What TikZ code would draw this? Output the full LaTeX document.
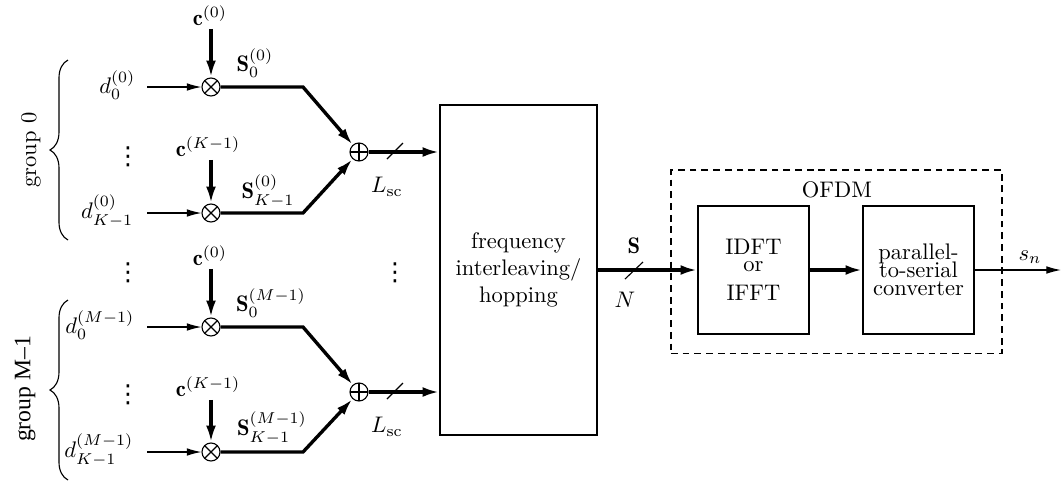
\documentclass[tikz,border=0pt]{standalone}
\usepackage{fontspec}
\newfontfamily\timesfont{Liberation Serif}
\newfontfamily\djvfont{DejaVu Sans}
\usetikzlibrary{arrows.meta,decorations.pathreplacing,calc}
\newcommand\myvdots{{\djvfont\fontsize{11}{11}\selectfont ⋮}}
\begin{document}
\begin{tikzpicture}[x=0.444pt,y=-0.444pt,
  thn/.style={line width=0.5pt},
  thinarr/.style={line width=0.5pt,-{Latex[length=6.5pt,width=3.4pt]}},
  thkarr/.style={line width=1.5pt,-{Latex[length=7.5pt,width=4.4pt]}},
  mult/.style={circle,draw,line width=0.5pt,minimum size=8pt,inner sep=0pt,
    path picture={\draw[line width=0.5pt] (path picture bounding box.north west) -- (path picture bounding box.south east)
      (path picture bounding box.north east) -- (path picture bounding box.south west);}},
  sumc/.style={circle,draw,line width=0.5pt,minimum size=8pt,inner sep=0pt,
    path picture={\draw[line width=0.5pt] (path picture bounding box.north) -- (path picture bounding box.south)
      (path picture bounding box.west) -- (path picture bounding box.east);}},
  block/.style={draw,line width=0.5pt,inner sep=0pt,align=center},
  lbl/.style={inner sep=1pt},
  dotsn/.style={inner sep=0pt},
  brc/.style={decorate,decoration={brace,amplitude=8pt},line width=0.5pt}
]
\useasboundingbox (0,0) rectangle (1062,481);

% ---------- group 0 ----------
\node[mult] (m00) at (211,87) {};
\node[mult] (m01) at (211,213) {};
\node[sumc] (s0) at (359,152) {};
\node[lbl] (c00) at (210,16) {$\mathbf{c}^{(0)}$};
\node[lbl] (c01) at (208,147) {$\mathbf{c}^{(K-1)}$};
\node[lbl,anchor=east] (d00) at (138,85) {$d_0^{(0)}$};
\node[lbl,anchor=east] (d01) at (136,211) {$d_{K-1}^{(0)}$};
\node[lbl] (S00) at (255,63) {$\mathbf{S}_0^{(0)}$};
\node[lbl] (S01) at (268,191) {$\mathbf{S}_{K-1}^{(0)}$};
\node[lbl] (L0) at (387,187) {$L_{\mathrm{sc}}$};
\node[dotsn] (v0) at (128,157) {\myvdots};
\coordinate (i00) at (147,87);
\coordinate (i01) at (147,213);
\coordinate (k00) at (303,87);
\coordinate (k01) at (303,213);

% ---------- group M-1 ----------
\node[mult] (m10) at (211,327) {};
\node[mult] (m11) at (211,452) {};
\node[sumc] (s1) at (359,392) {};
\node[lbl] (c10) at (210,256) {$\mathbf{c}^{(0)}$};
\node[lbl] (c11) at (208,387) {$\mathbf{c}^{(K-1)}$};
\node[lbl,anchor=east] (d10) at (137,325) {$d_0^{(M-1)}$};
\node[lbl,anchor=east] (d11) at (136,450) {$d_{K-1}^{(M-1)}$};
\node[lbl] (S10) at (271,303) {$\mathbf{S}_0^{(M-1)}$};
\node[lbl] (S11) at (272,428) {$\mathbf{S}_{K-1}^{(M-1)}$};
\node[lbl] (L1) at (387,427) {$L_{\mathrm{sc}}$};
\node[dotsn] (v1) at (128,395) {\myvdots};
\node[dotsn] (vm) at (128,273) {\myvdots};
\node[dotsn] (vr) at (395,273) {\myvdots};
\coordinate (i10) at (147,327);
\coordinate (i11) at (147,452);
\coordinate (k10) at (303,327);
\coordinate (k11) at (303,452);

% braces and group labels
\coordinate (b0t) at (68,60);
\coordinate (b0b) at (68,240);
\coordinate (b1t) at (68,300);
\coordinate (b1b) at (68,480);
\draw[brc] (b0b) -- (b0t);
\draw[brc] (b1b) -- (b1t);
\node[rotate=90] (g0) at (31,150) {group 0};
\node[rotate=90,font=\timesfont\fontsize{10.5}{12}\selectfont] (g1) at (25,389) {group M\textendash 1};

% ---------- blocks ----------
\node[block,minimum width=69.7pt,minimum height=146.5pt] (fh) at (518.5,270)
  {frequency\\interleaving/\\hopping};
\node[draw,line width=0.5pt,dash pattern=on 3pt off 2.2pt,minimum width=147pt,minimum height=81.3pt] (ofdm) at (836.5,261.5) {};
\node[lbl] (ofdml) at (837,190) {OFDM};
\node[block,minimum width=49.3pt,minimum height=56.8pt] (idft) at (753.5,270)
  {IDFT\\[-4.7pt]or\\[1.1pt]IFFT};
\node[block,minimum width=49.3pt,minimum height=56.8pt] (ps) at (918.5,270)
  {parallel-\\[-4pt]to-serial\\[-4pt]converter};
\node[lbl] (Sl) at (634,246) {$\mathbf{S}$};
\node[lbl] (Nl) at (625,300) {$N$};
\node[lbl] (snl) at (1030,257) {$s_n$};
\coordinate (out) at (1061,270);

% ---------- connectors group 0 ----------
\draw[thinarr] (i00) -- (m00);
\draw[thinarr] (i01) -- (m01);
\draw[thkarr] (c00.south -| m00) -- (m00);
\draw[thkarr] (c01.south -| m01) -- (m01);
\draw[thkarr] (m00) -- (k00) -- (s0);
\draw[thkarr] (m01) -- (k01) -- (s0);
\draw[thkarr] (s0) -- (s0 -| fh.west);
\draw[thn] ($(s0)+(28,7)$) -- ($(s0)+(44,-9)$);

% ---------- connectors group M-1 ----------
\draw[thinarr] (i10) -- (m10);
\draw[thinarr] (i11) -- (m11);
\draw[thkarr] (c10.south -| m10) -- (m10);
\draw[thkarr] (c11.south -| m11) -- (m11);
\draw[thkarr] (m10) -- (k10) -- (s1);
\draw[thkarr] (m11) -- (k11) -- (s1);
\draw[thkarr] (s1) -- (s1 -| fh.west);
\draw[thn] ($(s1)+(28,7)$) -- ($(s1)+(44,-9)$);

% ---------- right part ----------
\draw[thkarr] (fh.east) -- (idft.west);
\draw[thn] ($(Sl)+(-9,33)$) -- ($(Sl)+(9,16)$);
\draw[thkarr] (idft.east) -- (ps.west);
\draw[thinarr] (ps.east) -- (out);
\end{tikzpicture}
\end{document}
